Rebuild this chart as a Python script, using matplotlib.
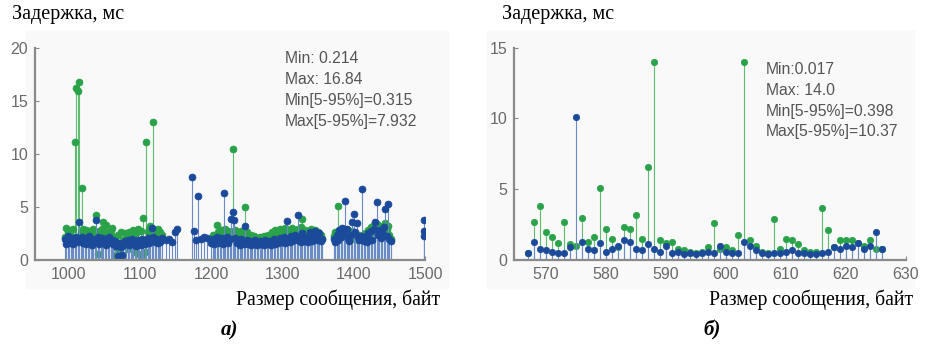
import numpy as np
import matplotlib.pyplot as plt
from matplotlib.patches import Rectangle

# panel a) - message sizes 1000..1500 bytes
xa_1 = np.arange(995, 1132, 2)
green_a1 = [2.2, 3.0, 2.6, 2.4, 2.8, 2.2, 2.9, 11.1, 16.2, 15.9, 16.8, 2.6, 6.8, 2.9, 2.4, 2.8, 2.2, 2.7,
            1.4, 2.5, 2.9, 1.6, 4.2, 0.6, 2.7, 2.3, 2.9, 3.6, 2.4, 3.3, 2.6, 1.8, 2.7, 3.0, 2.2, 1.2,
            0.5, 2.4, 0.8, 2.6, 0.3, 1.9, 2.5, 2.1, 1.0, 2.6, 2.3, 1.7, 2.8, 0.8, 2.5, 2.9, 0.6, 2.7,
            0.5, 4.0, 0.8, 11.1, 2.6, 2.9, 3.2, 2.4, 13.0, 2.8, 2.5, 2.9, 2.2, 2.6, 2.4]
blue_a1 = [2.0, 1.5, 2.3, 1.8, 1.6, 2.1, 1.5, 1.9, 2.2, 1.7, 3.6, 1.8, 2.2, 1.6, 2.0, 1.5, 1.9, 2.3,
           1.7, 1.4, 2.0, 1.8, 3.8, 2.2, 1.5, 1.9, 2.1, 1.6, 2.0, 1.4, 1.8, 2.2, 1.6, 1.9, 1.5, 1.8,
           1.3, 0.4, 1.6, 1.2, 0.5, 1.4, 1.8, 1.5, 1.9, 1.4, 1.7, 2.0, 1.5, 1.8, 1.3, 1.9, 1.6, 1.4,
           2.0, 1.7, 1.5, 1.9, 2.1, 1.6, 1.8, 3.0, 2.2, 1.7, 2.0, 1.6, 1.9, 1.7, 2.1]

xa_2 = [1137, 1141, 1145, 1149, 1152, 1173, 1176, 1179, 1181, 1186, 1190, 1194]
blue_a2 = [1.9, 2.0, 1.7, 2.6, 2.9, 7.8, 2.7, 1.9, 6.0, 2.0, 2.2, 2.1]

xa_3 = np.arange(1200, 1357, 2)
green_a3 = [2.0, 2.4, 1.9, 2.3, 3.3, 2.6, 2.0, 2.8, 2.2, 2.5, 2.9, 2.3, 2.7, 2.1, 2.6, 10.5, 2.4, 2.8,
            2.2, 2.5, 2.0, 2.7, 2.3, 2.1, 5.0, 2.6, 2.2, 1.9, 2.4, 2.0, 2.3, 1.8, 2.1, 1.9, 2.2, 1.7,
            2.0, 2.3, 1.8, 2.1, 2.4, 1.9, 2.2, 2.6, 2.0, 2.8, 2.3, 2.5, 2.9, 2.2, 2.6, 2.4, 3.0, 2.5,
            2.8, 2.2, 2.6, 3.0, 2.4, 2.7, 2.3, 2.9, 2.5, 3.1, 3.9, 2.6, 2.8, 2.3, 2.7, 2.4, 2.9, 2.2,
            2.5, 2.8, 2.3, 2.6, 2.1, 2.4, 2.0]
blue_a3 = [1.6, 2.0, 1.5, 1.9, 2.2, 1.6, 1.8, 2.1, 1.5, 6.3, 1.8, 2.2, 1.6, 2.0, 3.9, 4.5, 3.8, 2.1,
           1.6, 1.9, 1.4, 2.0, 1.7, 1.5, 3.2, 1.9, 1.5, 1.8, 1.4, 1.7, 1.5, 1.9, 1.4, 1.6, 1.8, 1.5,
           1.7, 1.4, 1.9, 1.6, 1.5, 1.8, 1.4, 1.7, 2.0, 1.5, 1.8, 1.6, 2.1, 1.7, 1.9, 2.2, 1.6, 3.7,
           2.0, 1.7, 2.3, 1.8, 2.0, 2.4, 1.9, 4.2, 2.1, 1.7, 2.5, 2.0, 1.8, 2.2, 1.7, 2.6, 2.0, 1.8,
           2.3, 2.7, 1.9, 2.1, 2.5, 1.8, 2.0]

xa_4 = np.arange(1372, 1453, 2)
green_a4 = [2.3, 2.6, 2.1, 5.1, 2.4, 2.7, 2.2, 2.9, 2.5, 2.0, 2.6, 2.3, 2.1, 2.7, 2.4, 2.0, 2.2, 1.9,
            2.4, 2.1, 2.3, 2.0, 2.5, 2.2, 2.8, 2.4, 3.1, 2.6, 3.3, 2.7, 3.4, 2.9, 3.2, 2.5, 3.0, 2.7,
            3.5, 2.8, 3.2, 2.4, 2.0]
blue_a4 = [2.0, 1.7, 2.4, 1.9, 2.8, 2.2, 3.0, 2.5, 5.6, 2.9, 2.1, 1.8, 2.4, 3.6, 4.3, 2.6, 3.5, 2.2,
           1.9, 2.3, 6.7, 1.8, 2.2, 1.7, 2.5, 2.0, 2.7, 1.9, 2.9, 3.6, 5.5, 2.4, 2.8, 2.1, 2.6, 3.1,
           4.8, 2.3, 5.3, 2.0, 1.8]

xa_5 = [1498, 1498, 1498]
blue_a5 = [3.8, 2.7, 2.3]

# panel б) - message sizes 567..626 bytes
xb = np.arange(567, 627)
green_b = [0.5, 2.7, 3.8, 2.0, 1.6, 1.2, 2.7, 1.1, 1.0, 3.0, 1.3, 1.6, 5.1, 2.2, 1.5, 0.9, 2.3, 2.2,
           3.2, 1.5, 6.6, 14.0, 1.4, 1.2, 1.3, 0.8, 0.7, 0.6, 0.5, 0.6, 0.9, 2.6, 0.8, 0.9, 0.7, 1.8,
           14.0, 1.4, 1.0, 0.6, 0.5, 2.9, 0.8, 1.5, 1.4, 1.1, 0.7, 0.6, 0.6, 3.7, 2.1, 0.9, 1.4, 1.4,
           1.4, 1.2, 1.0, 1.4, 0.8, 0.8]
blue_b = [0.5, 1.3, 0.8, 0.7, 0.6, 0.5, 0.5, 0.9, 10.1, 1.3, 0.8, 0.7, 1.2, 0.6, 0.8, 1.0, 1.4, 1.3,
          0.8, 0.7, 1.1, 0.8, 0.6, 1.0, 0.5, 0.6, 0.4, 0.5, 0.4, 0.5, 0.6, 0.5, 1.0, 0.6, 0.5, 0.5,
          1.3, 1.0, 0.7, 0.5, 0.4, 0.5, 0.5, 0.6, 0.7, 0.5, 0.5, 0.4, 0.4, 0.5, 0.6, 0.9, 0.8, 1.0,
          0.9, 1.2, 0.8, 1.0, 2.0, 0.8]

stats_a = ["Min: 0.214", "Max: 16.84", "Min[5-95%]=0.315", "Max[5-95%]=7.932"]
stats_b = ["Min:0.017", "Max: 14.0", "Min[5-95%]=0.398", "Max[5-95%]=10.37"]

GREEN_M, GREEN_L = "#2aa24a", "#5fbd72"
BLUE_M, BLUE_L = "#1c4a9a", "#6a8ac8"
AX_C = "#8a8a8a"
TXT_C = "#6a6a6a"


def stems(ax, x, y, mc, lc, ms=5.0):
    m, s, b = ax.stem(x, y, basefmt=" ")
    plt.setp(s, color=lc, linewidth=0.8)
    plt.setp(m, color=mc, markersize=ms, markeredgewidth=0.5)
    b.set_visible(False)


def style(ax, xlim, ylim, xticks, yticks):
    ax.set_xlim(*xlim)
    ax.set_ylim(*ylim)
    ax.set_xticks(xticks)
    ax.set_yticks(yticks)
    for side in ("top", "right"):
        ax.spines[side].set_visible(False)
    for side in ("left", "bottom"):
        ax.spines[side].set_color(AX_C)
        ax.spines[side].set_linewidth(1.6)
    ax.tick_params(direction="in", length=3, color=AX_C, labelcolor=TXT_C,
                   labelsize=11.5, pad=5)
    for lab in ax.get_xticklabels() + ax.get_yticklabels():
        lab.set_fontfamily("Liberation Sans")
    ax.set_facecolor("none")


fig = plt.figure(figsize=(9.28, 3.47), dpi=100)
# faint grey panels behind each chart, like the scanned original
fig.patches.append(Rectangle((0.028, 0.17), 0.455, 0.74, transform=fig.transFigure,
                             color="#f9f9f9", zorder=-5))
fig.patches.append(Rectangle((0.525, 0.17), 0.46, 0.74, transform=fig.transFigure,
                             color="#f9f9f9", zorder=-5))

ax1 = fig.add_axes([0.0377, 0.2507, 0.4203, 0.6118])
stems(ax1, xa_1, green_a1, GREEN_M, GREEN_L)
stems(ax1, xa_3, green_a3, GREEN_M, GREEN_L)
stems(ax1, xa_4, green_a4, GREEN_M, GREEN_L)
stems(ax1, xa_1, blue_a1, BLUE_M, BLUE_L)
stems(ax1, xa_2, blue_a2, BLUE_M, BLUE_L)
stems(ax1, xa_3, blue_a3, BLUE_M, BLUE_L)
stems(ax1, xa_4, blue_a4, BLUE_M, BLUE_L)
stems(ax1, xa_5, blue_a5, BLUE_M, BLUE_L)
style(ax1, (953, 1500), (0, 20), range(1000, 1501, 100), range(0, 21, 5))

ax2 = fig.add_axes([0.5539, 0.2507, 0.4224, 0.6118])
stems(ax2, xb, green_b, GREEN_M, GREEN_L, ms=4.6)
stems(ax2, xb, blue_b, BLUE_M, BLUE_L, ms=4.6)
style(ax2, (564.7, 630), (0, 15), range(570, 631, 10), range(0, 16, 5))

serif = "Liberation Serif"
fig.text(12 / 928, 1 - 15 / 347, "Задержка, мс", family=serif, fontsize=14.5, va="center")
fig.text(502 / 928, 1 - 15 / 347, "Задержка, мс", family=serif, fontsize=14.5, va="center")
fig.text(440 / 928, 1 - 300 / 347, "Размер сообщения, байт", family=serif, fontsize=14.2,
         va="center", ha="right")
fig.text(913 / 928, 1 - 300 / 347, "Размер сообщения, байт", family=serif, fontsize=14.2,
         va="center", ha="right")
fig.text(230 / 928, 1 - 330 / 347, "а)", family=serif, fontsize=15, weight="bold",
         style="italic", ha="center", va="center")
fig.text(712 / 928, 1 - 330 / 347, "б)", family=serif, fontsize=15, weight="bold",
         style="italic", ha="center", va="center")

for i, s in enumerate(stats_a):
    fig.text(285 / 928, 1 - (58.5 + 21 * i) / 347, s, family="Liberation Sans",
             fontsize=11.3, color="#555555", va="center")
for i, s in enumerate(stats_b):
    fig.text(766 / 928, 1 - (70 + 20.6 * i) / 347, s, family="Liberation Sans",
             fontsize=11.3, color="#555555", va="center")

fig.savefig("out.png", dpi=100, facecolor="white")
